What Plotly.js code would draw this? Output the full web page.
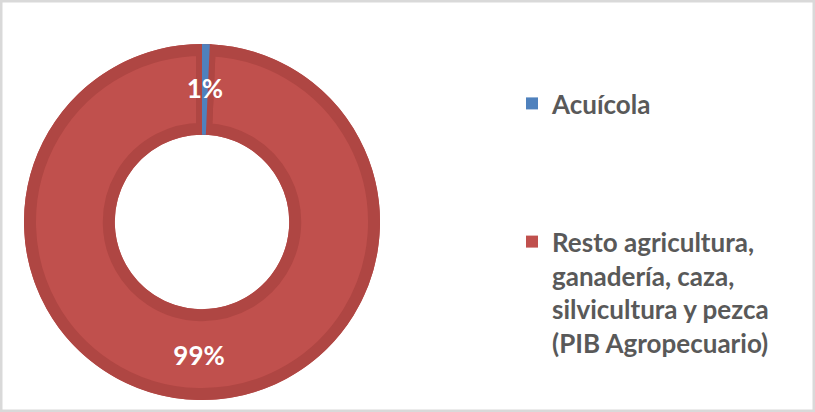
<!DOCTYPE html>
<html>
<head>
<meta charset="utf-8">
<script src="https://cdn.plot.ly/plotly-3.0.1.min.js"></script>
<style>
  html, body { margin: 0; padding: 0; background: #ffffff; }
  #chart { width: 815px; height: 412px; }
</style>
</head>
<body>
<div id="chart"></div>
<script>
// ---- data ----
const categories = [
  'Acuícola',
  'Resto agricultura,<br>ganadería, caza,<br>silvicultura y pezca<br>(PIB Agropecuario)'
];
const shares = [0.7, 99.3];
const sliceColors = ['#4F81BD', '#C0504D'];

// ---- styling ----
const W = 815, H = 412;
const cx = 202, cy = 222, R = 178, holeFrac = 0.49;
const band = 12;               // darker bevel band width
const darkRed = '#AF4643';
const clear = 'rgba(0,0,0,0)';
const labelRadius = 137;       // carrier ring used to seat the small-slice label mid-ring

function dom(radius) {
  return {
    x: [(cx - radius) / W, (cx + radius) / W],
    y: [1 - (cy + radius) / H, 1 - (cy - radius) / H]
  };
}

// spacing lines after the first legend entry, as in the original
const legendLabels = categories.map((c, i) => i < categories.length - 1 ? c + '<br> <br> <br> ' : c);

const common = {
  type: 'pie',
  labels: legendLabels,
  values: shares,
  sort: false,
  direction: 'clockwise',
  rotation: 0,
  hoverinfo: 'none'
};
const pctFont = { family: 'Lato', size: 26, color: '#FFFFFF', weight: 'bold' };

const rInner = R * holeFrac;
const R2 = R - band / 2;
const hole2 = (rInner + band / 2) / R2;

const traces = [
  Object.assign({}, common, {
    domain: dom(R), hole: holeFrac,
    marker: { colors: sliceColors, line: { width: 0 } },
    textinfo: 'none', showlegend: true
  }),
  Object.assign({}, common, {
    domain: dom(R2), hole: hole2,
    marker: { colors: [clear, clear], line: { width: band, color: darkRed } },
    textinfo: 'none', showlegend: false
  }),
  Object.assign({}, common, {
    domain: dom(R), hole: holeFrac,
    marker: { colors: [sliceColors[0], clear], line: { width: 0 } },
    texttemplate: '%{percent:.0%}',
    textposition: ['none', 'inside'],
    insidetextorientation: 'horizontal',
    textfont: pctFont,
    showlegend: false
  }),
  Object.assign({}, common, {
    domain: dom(labelRadius), hole: 0,
    marker: { colors: [clear, clear], line: { width: 0 } },
    texttemplate: '%{percent:.0%}',
    textposition: ['inside', 'none'],
    insidetextorientation: 'horizontal',
    textfont: pctFont,
    showlegend: false
  })
];

const layout = {
  width: W, height: H,
  margin: { l: 0, r: 0, t: 0, b: 0 },
  paper_bgcolor: '#FFFFFF',
  plot_bgcolor: '#FFFFFF',
  uniformtext: { mode: 'show', minsize: 26 },
  showlegend: true,
  legend: {
    x: 512 / W, xanchor: 'left',
    y: 1 - 80 / H, yanchor: 'top',
    valign: 'top',
    font: { family: 'Lato', size: 26, color: '#595959', weight: 'bold' },
    bgcolor: 'rgba(0,0,0,0)'
  },
  shapes: [{
    type: 'rect', xref: 'paper', yref: 'paper',
    x0: 0, x1: 1, y0: 0, y1: 1,
    line: { color: '#D9D9D9', width: 5 }
  }]
};

Plotly.newPlot('chart', traces, layout, { displayModeBar: false, staticPlot: true });
</script>
</body>
</html>
